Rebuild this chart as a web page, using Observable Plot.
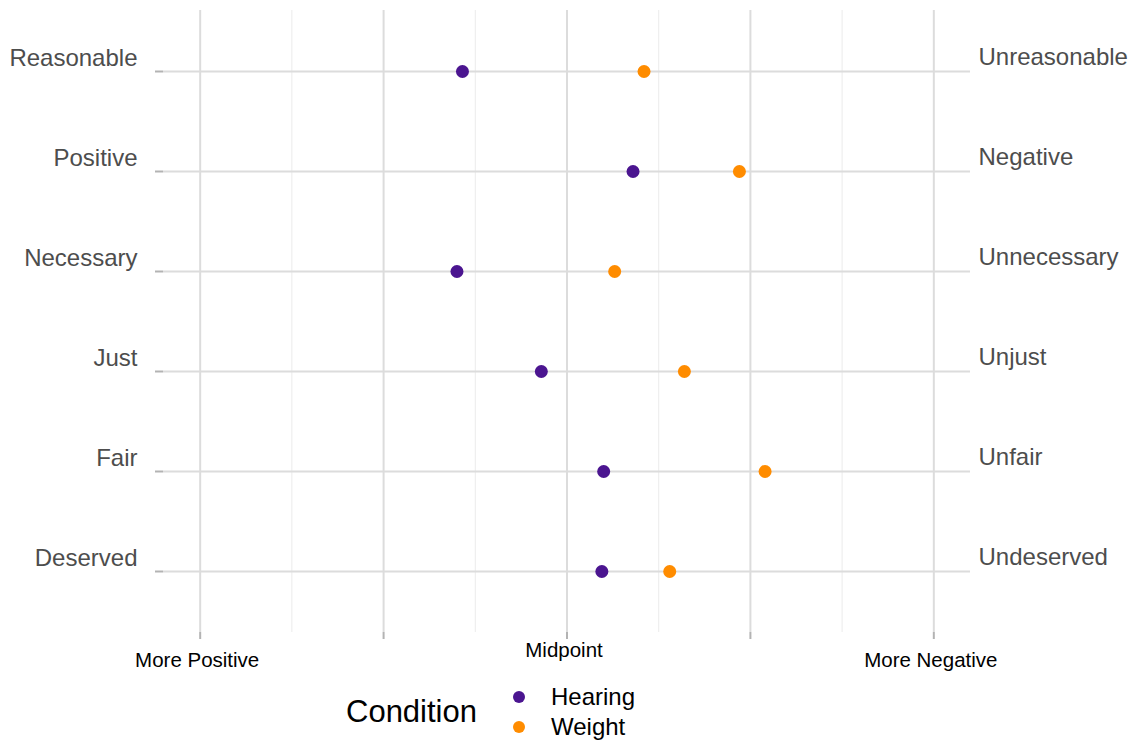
<!DOCTYPE html>
<html>
<head>
<meta charset="utf-8">
<script src="https://cdn.jsdelivr.net/npm/d3@7"></script>
<script src="https://cdn.jsdelivr.net/npm/@observablehq/plot@0.6"></script>
<style>
  body { margin: 0; background: #fff; font-family: "Liberation Sans", Arial, sans-serif; }
  #wrap { position: relative; width: 1132px; height: 742px; }
  #chart { position: absolute; left: 0; top: 0; }
  #legend { position: absolute; left: 346px; top: 682px; display: flex; align-items: center; }
  #legend .title { font-size: 31px; color: #000; margin-right: 36px; }
  #legend .items { display: flex; flex-direction: column; }
  #legend .item { display: flex; align-items: center; font-size: 24px; color: #000; height: 30px; }
  #legend .sw { width: 12px; height: 12px; border-radius: 50%; margin-right: 26px; }
</style>
</head>
<body>
<div id="wrap">
  <div id="chart"></div>
  <div id="legend"></div>
</div>
<script>
// Categories (top to bottom) and their opposite anchors
const positiveWords = ["Reasonable", "Positive", "Necessary", "Just", "Fair", "Deserved"];
const negativeWords = ["Unreasonable", "Negative", "Unnecessary", "Unjust", "Unfair", "Undeserved"];

// Condition series (scale 1 = More Positive, 3 = Midpoint, 5 = More Negative)
const conditions = ["Hearing", "Weight"];
const colors = ["#4b1590", "#ff8c00"];
const hearingValues = [2.43, 3.36, 2.40, 2.86, 3.20, 3.19];
const weightValues  = [3.42, 3.94, 3.26, 3.64, 4.08, 3.56];

// X tick labels
const xTickValues = [1, 3, 5];
const xTickLabels = ["More Positive", "Midpoint", "More Negative"];
const majorTicks = [1, 2, 3, 4, 5];
const minorTicks = [1.5, 2.5, 3.5, 4.5];

const data = [];
positiveWords.forEach((w, i) => {
  data.push({word: w, condition: conditions[0], value: hearingValues[i]});
  data.push({word: w, condition: conditions[1], value: weightValues[i]});
});
const negMap = new Map(positiveWords.map((w, i) => [w, negativeWords[i]]));
const xLabelMap = new Map(xTickValues.map((v, i) => [v, xTickLabels[i]]));

const plot = Plot.plot({
  width: 1132,
  height: 680,
  marginLeft: 163,
  marginRight: 162,
  marginTop: 10,
  marginBottom: 48,
  style: {fontFamily: "Liberation Sans, Arial, sans-serif", background: "#fff", overflow: "visible"},
  x: {domain: [0.8, 5.2], label: null},
  y: {type: "point", domain: positiveWords, padding: 0.6, label: null},
  color: {domain: conditions, range: colors},
  marks: [
    // minor vertical grid
    Plot.ruleX(minorTicks, {stroke: "#ebebeb", strokeWidth: 1}),
    // major vertical grid
    Plot.ruleX(majorTicks, {stroke: "#dcdcdc", strokeWidth: 2}),
    // horizontal grid at each category
    Plot.ruleY(positiveWords, {y: d => d, stroke: "#dcdcdc", strokeWidth: 2}),
    // bottom ticks
    Plot.axisX(majorTicks, {anchor: "bottom", tickSize: 7, stroke: "#b3b3b3", strokeWidth: 2, tickFormat: () => "", label: null}),
    // bottom labels
    Plot.axisX([1, 5], {anchor: "bottom", tickSize: 0, tickPadding: 20, fontSize: 20.5, fill: "#000", dx: -3, tickFormat: d => xLabelMap.get(d), label: null}),
    Plot.axisX([3], {anchor: "bottom", tickSize: 0, tickPadding: 10, fontSize: 20.5, fill: "#000", dx: -3, tickFormat: d => xLabelMap.get(d), label: null}),
    // left ticks
    Plot.axisY({anchor: "left", tickSize: 8, stroke: "#b3b3b3", strokeWidth: 2, tickFormat: () => "", label: null}),
    // left axis labels (positive words)
    Plot.axisY({anchor: "left", tickSize: 0, tickPadding: 26, fontSize: 24, fill: "#4d4d4d", dy: -13, label: null}),
    // right axis (negative words)
    Plot.axisY({anchor: "right", tickSize: 0, tickPadding: 8, fontSize: 24, fill: "#4d4d4d", dy: -14, tickFormat: d => negMap.get(d), label: null}),
    // points
    Plot.dot(data, {x: "value", y: "word", fill: "condition", r: 6.5})
  ]
});
document.getElementById("chart").appendChild(plot);

// legend
const legend = document.getElementById("legend");
const title = document.createElement("div");
title.className = "title";
title.textContent = "Condition";
legend.appendChild(title);
const items = document.createElement("div");
items.className = "items";
conditions.forEach((c, i) => {
  const it = document.createElement("div");
  it.className = "item";
  const sw = document.createElement("span");
  sw.className = "sw";
  sw.style.background = colors[i];
  const lab = document.createElement("span");
  lab.textContent = c;
  it.appendChild(sw);
  it.appendChild(lab);
  items.appendChild(it);
});
legend.appendChild(items);
</script>
</body>
</html>
